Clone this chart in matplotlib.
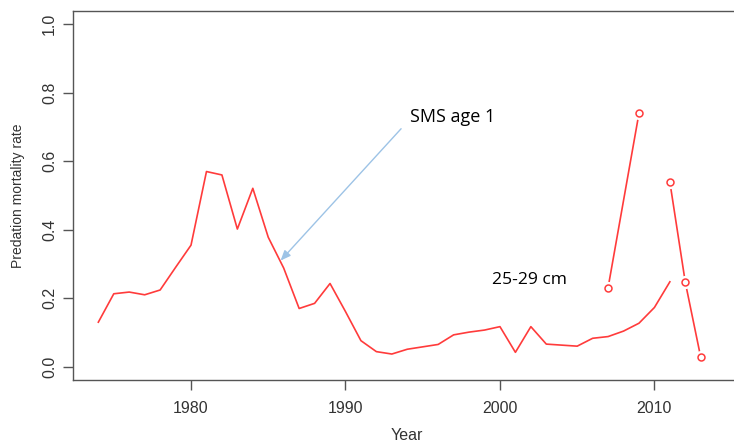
import numpy as np
import matplotlib
matplotlib.use("Agg")
import matplotlib.pyplot as plt

# Data
years = list(range(1974, 2012))
sms_age1 = [0.13, 0.213, 0.218, 0.210, 0.224, 0.290, 0.355, 0.570, 0.560, 0.402,
            0.521, 0.378, 0.288, 0.170, 0.185, 0.243, 0.161, 0.076, 0.044, 0.037,
            0.051, 0.058, 0.065, 0.093, 0.101, 0.107, 0.117, 0.042, 0.117, 0.066,
            0.063, 0.060, 0.083, 0.088, 0.104, 0.127, 0.173, 0.248]
obs_years = [2007, 2009, 2010, 2011, 2012, 2013]
obs_vals = [0.231, 0.740, np.nan, 0.539, 0.246, 0.027]

xticks = [1980, 1990, 2000, 2010]
yticks = [0.0, 0.2, 0.4, 0.6, 0.8, 1.0]

fig = plt.figure(figsize=(7.34, 4.45), dpi=100)
W, H = 734, 445
left_px, right_px, top_px, bot_px = 73, 757, 10.6, 380.4
ax = fig.add_axes([left_px / W, 1 - bot_px / H, (right_px - left_px) / W, (bot_px - top_px) / H])

red = "#FF3B3B"
ax.plot(years, sms_age1, color=red, lw=1.2)
# type="b": line with gaps around points
ax.plot(obs_years, obs_vals, color=red, lw=1.2)
ax.plot(obs_years, obs_vals, linestyle="none", marker="o", ms=5.5,
        mfc="white", mec="white", mew=4)
ax.plot(obs_years, obs_vals, linestyle="none", marker="o", ms=5,
        mfc="white", mec=red, mew=1.1)

ax.set_xlim(1972.36, 2016.64)
ax.set_ylim(-0.04, 1.04)
ax.set_xticks(xticks)
ax.set_xticklabels([str(t) for t in xticks])
ax.set_yticks(yticks)
ax.set_yticklabels([f"{t:.1f}" for t in yticks], rotation=90, va="center")

gray = "#555555"
for s in ax.spines.values():
    s.set_color(gray)
    s.set_linewidth(1.0)
ax.spines["right"].set_visible(False)
ax.tick_params(axis="both", direction="out", length=7.5, width=1.0, color=gray,
               labelcolor="#333333", labelsize=11.5, pad=7, labelfontfamily="Liberation Sans")
ax.tick_params(axis="y", pad=4)

ax.set_xlabel("Year", fontsize=11.5, color="#333333", family="Liberation Sans", va="center")
ax.xaxis.set_label_coords((407 - left_px) / (right_px - left_px), (bot_px - 436) / (bot_px - top_px))
ax.set_ylabel("Predation mortality rate", fontsize=10, color="#333333",
              family="Liberation Sans", labelpad=12)

# annotations
ax.annotate("", xy=(1985.8, 0.31), xytext=(1993.6, 0.695),
            arrowprops=dict(arrowstyle="-|>,head_length=0.6,head_width=0.25",
                            color="#9DC3E6", lw=1.0, shrinkA=0, shrinkB=0))
fig.text(410 / W, 1 - 117 / H, "SMS age 1", fontsize=13, family="Open Sans",
         color="#000000", ha="left", va="center")
fig.text(492 / W, 1 - 280 / H, "25-29 cm", fontsize=12.6, family="Open Sans",
         color="#000000", ha="left", va="center")

fig.savefig("out.png", dpi=100)
